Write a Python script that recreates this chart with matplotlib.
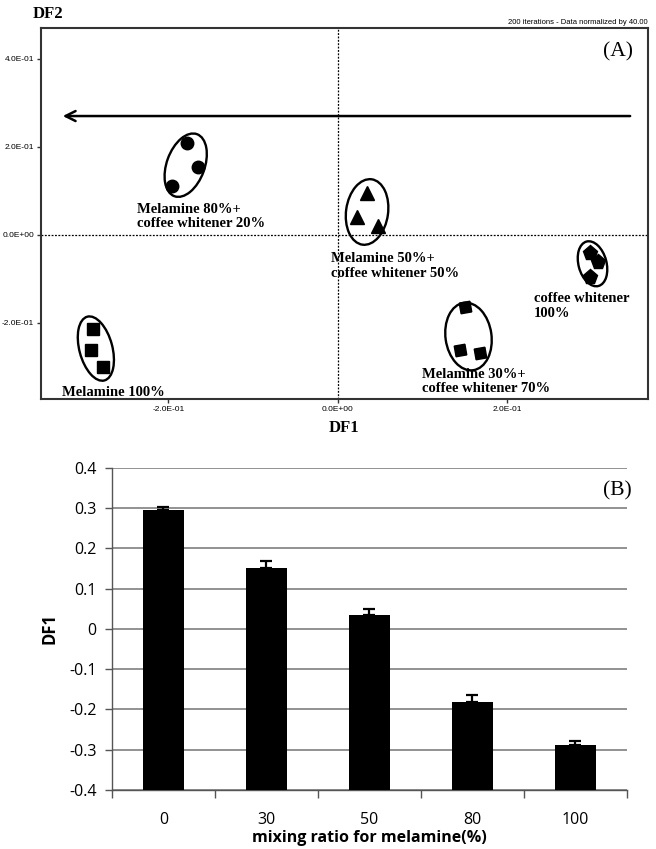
import matplotlib
matplotlib.use('Agg')
import matplotlib.pyplot as plt
import matplotlib.transforms as mtransforms
from matplotlib.patches import Ellipse
from matplotlib.ticker import FuncFormatter
from matplotlib import font_manager
import numpy as np

# --- (A) discriminant scores, DF1 / DF2 ---
mel100_df1 = [-0.289, -0.291, -0.277]
mel100_df2 = [-0.214, -0.261, -0.300]
mel80_df1 = [-0.178, -0.165, -0.196]
mel80_df2 = [0.209, 0.155, 0.111]
mel50_df1 = [0.034, 0.022, 0.047]
mel50_df2 = [0.095, 0.041, 0.020]
mel30_df1 = [0.150, 0.144, 0.168]
mel30_df2 = [-0.164, -0.261, -0.268]
cw100_df1 = [0.297, 0.307, 0.297]
cw100_df2 = [-0.041, -0.061, -0.095]

group_labels = ['Melamine 100%',
                'Melamine 80%+\ncoffee whitener 20%',
                'Melamine 50%+\ncoffee whitener 50%',
                'Melamine 30%+\ncoffee whitener 70%',
                'coffee whitener\n100%']
label_pos = [(-0.326, -0.343), (-0.237, 0.073), (-0.008, -0.039),
             (0.099, -0.302), (0.231, -0.130)]

# --- (B) DF1 versus mixing ratio ---
ratios = ['0', '30', '50', '80', '100']
df1_mean = [0.296, 0.151, 0.034, -0.181, -0.288]
df1_err = [0.006, 0.017, 0.015, 0.017, 0.010]

fonts = font_manager.fontManager.ttflist
names = {f.name for f in fonts}
narrow = 'Liberation Sans Narrow' if 'Liberation Sans Narrow' in names else 'Liberation Sans'
serif = 'Liberation Serif'
sans = 'DejaVu Sans'
for fam in ['Open Sans', 'Lato', 'Roboto', 'Noto Sans']:
    w = [f.weight for f in fonts if f.name == fam]
    if any(x in ('bold', 700, 'semibold', 600) or (isinstance(x, int) and x >= 600) for x in w) \
            and any(x in ('normal', 'regular', 400) for x in w):
        sans = fam
        break

fig = plt.figure(figsize=(6.56, 8.49), dpi=100)

# ---------------- panel A ----------------
ax1 = fig.add_axes([0.0625, 0.530, 0.9253, 0.437])
ax1.set_xlim(-0.3504, 0.3658)
ax1.set_ylim(-0.373, 0.470)
ax1.set_xticks([-0.2, 0.0, 0.2])
ax1.set_yticks([-0.2, 0.0, 0.2, 0.4])
fmt = FuncFormatter(lambda v, p: '%.1E' % (0.0 if abs(v) < 1e-12 else v))
ax1.xaxis.set_major_formatter(fmt)
ax1.yaxis.set_major_formatter(fmt)
ax1.tick_params(length=3, width=1, labelsize=6, pad=2, color='#333333')
for t in ax1.get_xticklabels() + ax1.get_yticklabels():
    t.set_fontfamily(narrow)
for s in ax1.spines.values():
    s.set_linewidth(1.5)
    s.set_color('#333333')

ax1.axhline(0, color='k', lw=0.9, ls=(0, (1.5, 1.2)))
ax1.axvline(0, color='k', lw=0.9, ls=(0, (1.5, 1.2)))

ax1.annotate('', xy=(-0.328, 0.270), xytext=(0.348, 0.270),
             arrowprops=dict(arrowstyle='->', lw=1.8, color='k', mutation_scale=18))

ax1.plot(mel100_df1, mel100_df2, 's', color='k', ms=9)
ax1.plot(mel80_df1, mel80_df2, 'o', color='k', ms=9)
ax1.plot(mel50_df1, mel50_df2, '^', color='k', ms=10)
ax1.plot(mel30_df1, mel30_df2, marker=(4, 0, 55), ls='none', color='k', ms=11)
ax1.plot(cw100_df1, cw100_df2, 'p', color='k', ms=11)


def ring(ax, xs, ys, w, h, ang):
    # ellipse drawn around a cluster, size given in pixels
    cx, cy = np.mean(xs), np.mean(ys)
    tr = fig.dpi_scale_trans + mtransforms.ScaledTranslation(cx, cy, ax.transData)
    ax.add_patch(Ellipse((0, 0), w / 100, h / 100, angle=ang, fill=False,
                         lw=1.7, color='k', transform=tr))


ring(ax1, mel100_df1, mel100_df2, 33, 66, 15)
ring(ax1, mel80_df1, mel80_df2, 38, 66, -20)
ring(ax1, mel50_df1, mel50_df2, 42, 66, -8)
ring(ax1, mel30_df1, mel30_df2, 46, 68, 8)
ring(ax1, cw100_df1, cw100_df2, 28, 46, 15)

for txt, (x, y) in zip(group_labels, label_pos):
    ax1.text(x, y, txt, ha='left', va='top', fontsize=10.5, fontweight='bold',
             family=serif, linespacing=1.15)

ax1.text(0.975, 0.935, '(A)', transform=ax1.transAxes, ha='right', va='center',
         fontsize=15.5, family=serif)
ax1.text(1.0, 1.006, '200 iterations - Data normalized by 40.00', transform=ax1.transAxes,
         ha='right', va='bottom', fontsize=5.5, family=narrow)
fig.text(48 / 656, 1 - 14 / 849, 'DF2', ha='center', va='center', fontsize=12,
         fontweight='bold', family=serif)
fig.text(344 / 656, 1 - 428 / 849, 'DF1', ha='center', va='center', fontsize=12,
         fontweight='bold', family=serif)

# ---------------- panel B ----------------
ax2 = fig.add_axes([0.1707, 0.0695, 0.785, 0.3793])
xpos = np.arange(len(ratios))
heights = np.array(df1_mean) + 0.4
ax2.bar(xpos, heights, bottom=-0.4, width=0.39, color='k', zorder=3,
        yerr=[np.zeros(len(df1_err)), df1_err], capsize=4,
        error_kw=dict(lw=1.6, capthick=1.6, ecolor='k', zorder=4))
ax2.set_xlim(-0.5, len(ratios) - 0.5)
ax2.set_ylim(-0.4, 0.4)
ax2.set_yticks(np.arange(-0.4, 0.41, 0.1))
ax2.yaxis.set_major_formatter(FuncFormatter(lambda v, p: '0' if abs(v) < 1e-9 else '%.1f' % v))
ax2.set_xticks(xpos)
ax2.set_xticklabels(ratios)
ax2.set_xticks(np.arange(-0.5, len(ratios), 1), minor=True)
ax2.tick_params(axis='x', which='major', length=0, pad=16)
ax2.tick_params(axis='x', which='minor', length=6, width=1, color='#555555')
ax2.tick_params(axis='y', length=5, width=1, color='#555555', pad=6)
for t in ax2.get_xticklabels() + ax2.get_yticklabels():
    t.set_fontfamily(sans)
    t.set_fontsize(11.5)
ax2.yaxis.grid(True, color='#7f7f7f', lw=1.2)
ax2.set_axisbelow(True)
for side in ['top', 'right']:
    ax2.spines[side].set_visible(False)
for side in ['left', 'bottom']:
    ax2.spines[side].set_color('#555555')
    ax2.spines[side].set_linewidth(1.0)
ax2.set_xlabel('mixing ratio for melamine(%)', fontsize=11.5, fontweight='bold',
               family=sans, labelpad=1)
ax2.set_ylabel('DF1', fontsize=12, fontweight='bold', family=sans, labelpad=8)
ax2.text(1.01, 0.929, '(B)', transform=ax2.transAxes, ha='right', va='center',
         fontsize=15.5, family=serif)

fig.savefig('out.png', dpi=100)
